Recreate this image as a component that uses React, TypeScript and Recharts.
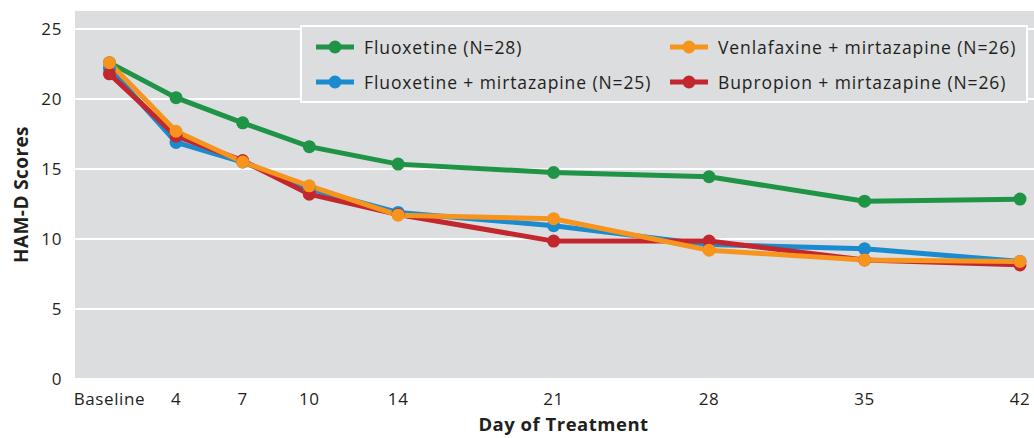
import { CartesianGrid, Line, LineChart, XAxis, YAxis } from 'recharts';

const days = [1, 4, 7, 10, 14, 21, 28, 35, 42];
const fluoxetine = [22.6, 20.1, 18.3, 16.6, 15.35, 14.75, 14.45, 12.7, 12.85];
const fluoxetineMirtazapine = [22.2, 16.9, 15.5, 13.6, 11.9, 10.95, 9.6, 9.3, 8.4];
const bupropionMirtazapine = [21.8, 17.35, 15.6, 13.2, 11.75, 9.85, 9.85, 8.5, 8.15];
const venlafaxineMirtazapine = [22.6, 17.7, 15.5, 13.8, 11.7, 11.45, 9.2, 8.5, 8.4];
const yTicks = [0, 5, 10, 15, 20, 25];

const series = [
  { key: 'flx', name: 'Fluoxetine (N=28)', color: '#1f9447', values: fluoxetine },
  { key: 'flxMirt', name: 'Fluoxetine + mirtazapine (N=25)', color: '#1b8bcf', values: fluoxetineMirtazapine },
  { key: 'bupMirt', name: 'Bupropion + mirtazapine (N=26)', color: '#c1272d', values: bupropionMirtazapine },
  { key: 'venMirt', name: 'Venlafaxine + mirtazapine (N=26)', color: '#f7941d', values: venlafaxineMirtazapine },
];

// legend reads row by row: F, V / F+M, B+M
const legendOrder = ['flx', 'venMirt', 'flxMirt', 'bupMirt'];

const data = days.map((day, i) => {
  const row: Record<string, number> = { day };
  series.forEach((s) => {
    row[s.key] = s.values[i];
  });
  return row;
});

const FONT = '"Open Sans", "Noto Sans", sans-serif';
const BG = '#dcdddf';
const INK = '#231f20';

function LegendBox() {
  return (
    <div
      style={{
        position: 'absolute',
        left: 300,
        top: 25,
        width: 724,
        height: 74,
        border: '2px solid #fff',
        background: BG,
        fontFamily: FONT,
        fontSize: 17.5,
        letterSpacing: 0.9,
        color: INK,
      }}
    >
      {legendOrder.map((key, i) => {
        const s = series.find((x) => x.key === key)!;
        const col = i % 2;
        const row = Math.floor(i / 2);
        return (
          <div
            key={key}
            style={{
              position: 'absolute',
              left: col === 0 ? 14 : 368,
              top: row === 0 ? 7 : 42,
              height: 26,
              display: 'flex',
              alignItems: 'center',
              whiteSpace: 'nowrap',
            }}
          >
            <svg width={38} height={16} style={{ marginRight: 10 }}>
              <line x1={0} y1={8} x2={38} y2={8} stroke={s.color} strokeWidth={5} />
              <circle cx={19} cy={8} r={6.5} fill={s.color} />
            </svg>
            <span>{s.name}</span>
          </div>
        );
      })}
    </div>
  );
}

export default function App() {
  return (
    <div style={{ position: 'absolute', left: 0, top: 0, width: 1034, height: 438, background: '#fff' }}>
      <LineChart width={1034} height={438} data={data} margin={{ top: 10, right: 0, left: 0, bottom: 0 }}>
        <CartesianGrid vertical={false} fill={BG} stroke="#fff" strokeWidth={2} />
        <XAxis
          dataKey="day"
          type="number"
          domain={[-0.55, 42.63]}
          allowDataOverflow
          ticks={days}
          tickFormatter={(v: number) => (v === 1 ? 'Baseline' : String(v))}
          height={59}
          axisLine={false}
          tickLine={false}
          tickMargin={8}
          tick={{ fill: INK, fontSize: 17, fontFamily: FONT, letterSpacing: 0.6 }}
          label={{
            value: 'Day of Treatment',
            position: 'center',
            dx: 9,
            dy: 16,
            style: { fill: INK, fontSize: 18.5, fontWeight: 700, fontFamily: FONT, letterSpacing: 0.5 },
          }}
        />
        <YAxis
          type="number"
          domain={[0, 26.36]}
          allowDataOverflow
          ticks={yTicks}
          width={75}
          axisLine={false}
          tickLine={false}
          tickMargin={7}
          tick={{ fill: INK, fontSize: 17, fontFamily: FONT, letterSpacing: 0.6 }}
          label={{
            value: 'HAM-D Scores',
            angle: -90,
            position: 'center',
            dx: -16,
            style: { fill: INK, fontSize: 19, fontWeight: 700, fontFamily: FONT, letterSpacing: 0.4, textAnchor: 'middle' },
          }}
        />
        {series.map((s) => (
          <Line
            key={s.key}
            dataKey={s.key}
            name={s.name}
            type="linear"
            stroke={s.color}
            strokeWidth={5}
            dot={{ r: 6.5, fill: s.color, stroke: 'none' }}
            activeDot={false}
            isAnimationActive={false}
          />
        ))}
      </LineChart>
      <LegendBox />
    </div>
  );
}
